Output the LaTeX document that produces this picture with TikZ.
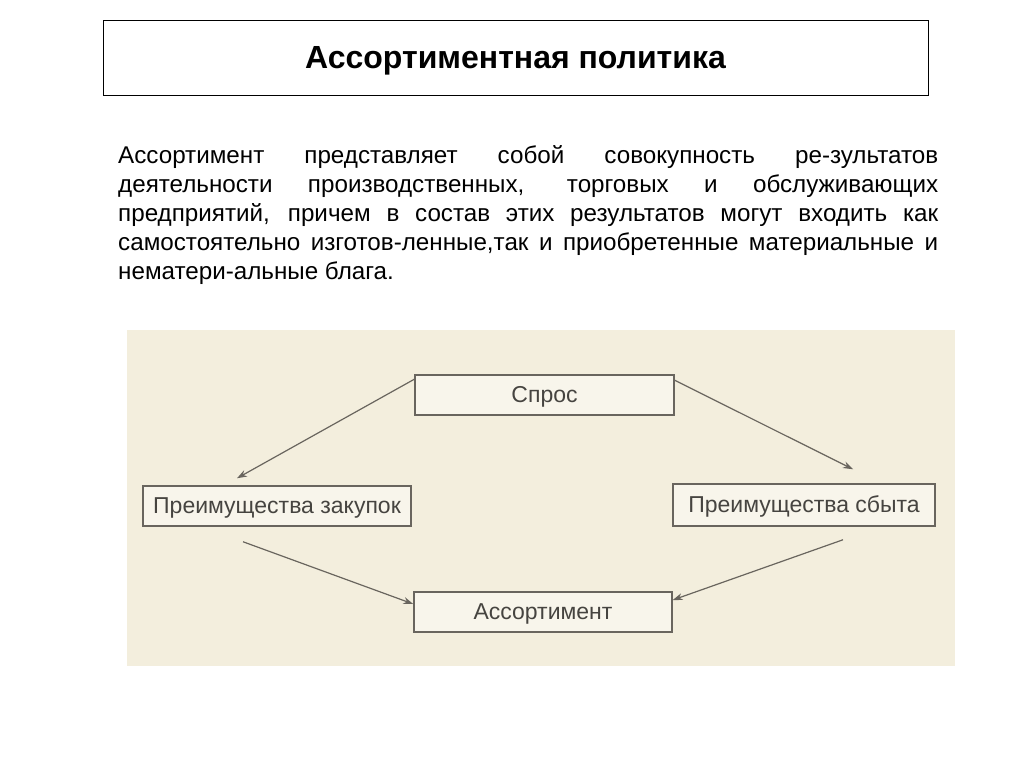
\documentclass[tikz,border=0pt]{standalone}
\usepackage{fontspec}
\setmainfont{Liberation Sans}
\usepackage{xcolor}
\usetikzlibrary{arrows.meta, calc, positioning}

\definecolor{scanbg}{RGB}{243,238,221}
\definecolor{scanline}{RGB}{105,101,94}
\definecolor{scantext}{RGB}{70,68,64}

\begin{document}
\begin{tikzpicture}[x=1pt, y=-1pt,
    titlebox/.style={draw=black, line width=0.8pt, minimum width=825pt, minimum height=75pt,
        inner sep=0pt, text depth=0pt},
    factor/.style={draw=scanline, line width=1.5pt, fill=scanbg!60!white, text=scantext,
        minimum height=40pt, inner sep=0pt, text depth=1pt, font=\fontsize{23}{26}\selectfont},
    link/.style={draw=scanline, line width=1.2pt, -{Stealth[length=10pt, width=7pt]}}]
    \useasboundingbox (0,0) rectangle (1024,768);
    \fill[white] (0,0) rectangle (1024,768);

    % заголовок
    \node[titlebox] (title) at (515.5, 57.5) {\fontsize{32}{36}\selectfont\bfseries Ассортиментная политика};

    % определение
    \node[anchor=north west, inner sep=0pt, text width=820pt, align=justify,
          font=\fontsize{24.2}{29}\selectfont] (def) at (118, 145) {%
        \hyphenpenalty=10000
        Ассортимент представляет собой совокупность ре-зультатов\linebreak
        деятельности производственных, торговых и обслуживающих\linebreak
        предприятий, причем в состав этих результатов могут входить как\linebreak
        самостоятельно изготов-ленные,так и приобретенные материальные и\linebreak
        нематери-альные блага.};

    % схема (фон скана)
    \fill[scanbg] (127, 330) rectangle (955, 666);

    \node[factor, minimum width=259pt] (spros)  at (544.5, 395) {Спрос};
    \node[factor, minimum width=268pt] (zakup)  at (277, 506)   {Преимущества закупок};
    \node[factor, minimum width=262pt, minimum height=42pt] (sbyt) at (804, 505) {Преимущества сбыта};
    \node[factor, minimum width=258pt] (assort) at (543, 612)   {Ассортимент};

    \draw[link] ([yshift=-5pt]spros.north west) -- ([xshift=-40pt, yshift=7pt]zakup.north);
    \draw[link] ([yshift=-6pt]spros.north east) -- ([xshift=49pt, yshift=14pt]sbyt.north);
    \draw[link] ([xshift=-34pt, yshift=-15pt]zakup.south) -- ([yshift=8pt]assort.west);
    \draw[link] ([xshift=39pt, yshift=-13pt]sbyt.south) -- ([yshift=12pt]assort.east);
\end{tikzpicture}
\end{document}
